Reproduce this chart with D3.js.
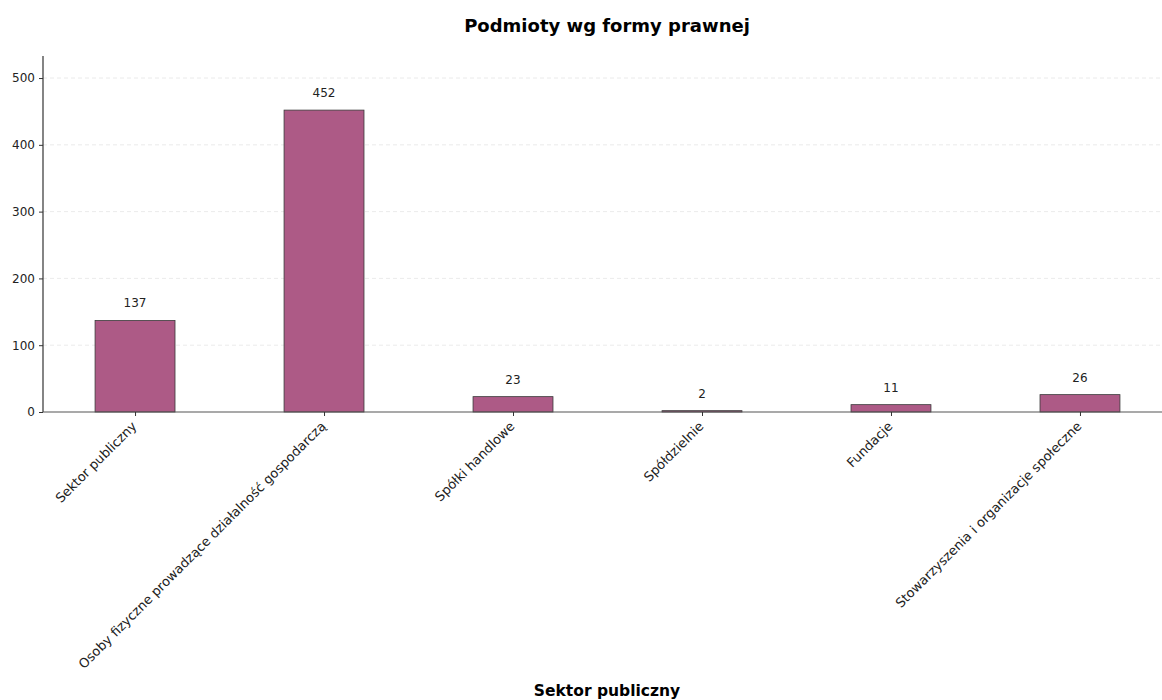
<!DOCTYPE html>
<html><head><meta charset="utf-8">
<script src="https://cdn.jsdelivr.net/npm/d3@7"></script>
<style>body{margin:0;background:#fff;} text{font-family:"DejaVu Sans",sans-serif;}</style>
</head><body><svg id="c" width="1162" height="700"></svg>
<script>
const categories = ["Sektor publiczny","Osoby fizyczne prowadzące działalność gospodarczą","Spółki handlowe","Spółdzielnie","Fundacje","Stowarzyszenia i organizacje społeczne"];
const values = [137,452,23,2,11,26];
const yTicks = [0,100,200,300,400,500];
const title = "Podmioty wg formy prawnej";
const xLabel = "Sektor publiczny";

const svg = d3.select("#c");
const pLeft = 43, pRight = 1162, pTop = 56, pBottom = 412;
const x = d3.scaleLinear().domain([-0.487, 5.434]).range([pLeft, pRight]);
const y = d3.scaleLinear().domain([0, 533]).range([pBottom, pTop]);
const bw = 0.423;

// grid
svg.append("g").selectAll("line").data(yTicks.filter(d=>d>0)).join("line")
  .attr("x1", pLeft).attr("x2", pRight).attr("y1", d=>y(d)).attr("y2", d=>y(d))
  .attr("stroke", "#e6e6e6").attr("stroke-width", 0.8).attr("stroke-dasharray", "4,3");

// bars
svg.append("g").selectAll("rect").data(values).join("rect")
  .attr("x", (d,i)=>x(i-bw/2)).attr("width", (d,i)=>x(i+bw/2)-x(i-bw/2))
  .attr("y", d=>y(d)).attr("height", d=>y(0)-y(d))
  .attr("fill", "#ad5a86").attr("stroke", "#3a3a3a").attr("stroke-width", 0.8);

// value labels
svg.append("g").selectAll("text").data(values).join("text")
  .attr("x", (d,i)=>x(i)).attr("y", d=>y(d)-13)
  .attr("text-anchor","middle").attr("font-size", 12).attr("fill","#222").text(d=>d);

// y axis
const ya = d3.axisLeft(y).tickValues(yTicks).tickSize(4).tickPadding(4);
const gy = svg.append("g").attr("transform", `translate(${pLeft},0)`).call(ya);
gy.select(".domain").attr("stroke","#333").attr("stroke-width",1.2).attr("d", `M0,${pTop}V${pBottom}`);
gy.selectAll(".tick line").attr("stroke","#333");
gy.selectAll(".tick text").attr("font-size", 12).attr("fill","#222").attr("font-family","DejaVu Sans");

// x axis
const xa = d3.axisBottom(x).tickValues(d3.range(categories.length)).tickFormat(i=>categories[i]).tickSize(4).tickPadding(4);
const gx = svg.append("g").attr("transform", `translate(0,${pBottom})`).call(xa);
gx.select(".domain").attr("stroke","#555").attr("stroke-width",1.2).attr("d", `M${pLeft},0H${pRight}`);
gx.selectAll(".tick line").attr("stroke","#333");
gx.selectAll(".tick text").attr("font-size", 13).attr("fill","#222").attr("font-family","DejaVu Sans")
  .attr("text-anchor","end").attr("dy", null).attr("y", 0)
  .attr("transform","translate(2,15) rotate(-45)");

// title
svg.append("text").attr("x", 607).attr("y", 32).attr("text-anchor","middle")
  .attr("font-size", 18).attr("font-weight","bold").attr("fill","#000").text(title);
svg.append("text").attr("x", 607).attr("y", 696).attr("text-anchor","middle")
  .attr("font-size", 15.5).attr("font-weight","bold").attr("fill","#000").text(xLabel);
</script></body></html>
